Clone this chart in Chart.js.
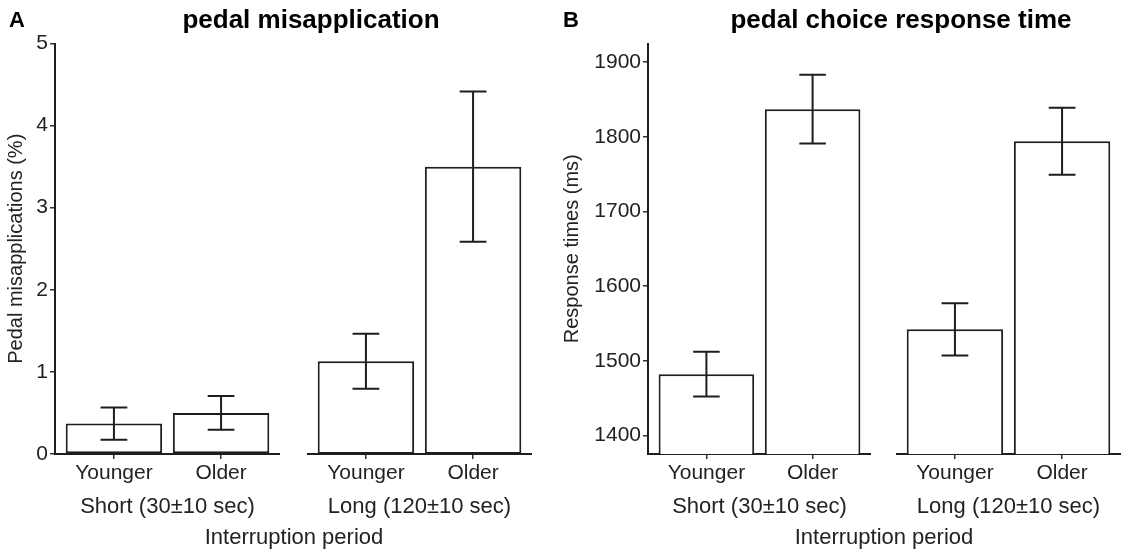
<!DOCTYPE html>
<html>
<head>
<meta charset="utf-8">
<title>pedal misapplication / response time</title>
<script src="https://cdn.jsdelivr.net/npm/chart.js@4.4.1/dist/chart.umd.min.js"></script>
<style>
  body { margin: 0; background: #fff; }
  #wrap { position: relative; width: 1121px; height: 554px; overflow: hidden;
          font-family: "Liberation Sans", Arial, Helvetica, sans-serif; color: #000; }
  canvas { position: absolute; top: 0; }
  .lbl { position: absolute; white-space: nowrap; line-height: 1; }
  .panel { font-weight: bold; font-size: 22px; }
  .title { font-weight: bold; font-size: 26px; transform: translateX(-50%); }
  .xgroup { font-size: 22px; color: #222; transform: translateX(-50%); }
</style>
</head>
<body>
<div id="wrap">
  <canvas id="a1" width="280" height="554" style="left:0px"></canvas>
  <canvas id="a2" width="225" height="554" style="left:307px"></canvas>
  <canvas id="b1" width="311" height="554" style="left:560px"></canvas>
  <canvas id="b2" width="225" height="554" style="left:896px"></canvas>

  <div class="lbl panel" style="left:9px;top:9px">A</div>
  <div class="lbl title" style="left:311px;top:6px">pedal misapplication</div>
  <div class="lbl xgroup" style="left:294px;top:526px">Interruption period</div>

  <div class="lbl panel" style="left:563px;top:9px">B</div>
  <div class="lbl title" style="left:901px;top:6px">pedal choice response time</div>
  <div class="lbl xgroup" style="left:884px;top:526px">Interruption period</div>
</div>

<script>
// data
const ageGroups = ["Younger", "Older"];
const periods = ["Short (30\u00b110 sec)", "Long (120\u00b110 sec)"];

// A: pedal misapplications (%), mean and error half-width
const misapplyShort = [0.37, 0.50];
const misapplyShortErr = [0.195, 0.205];
const misapplyLong = [1.13, 3.50];
const misapplyLongErr = [0.335, 0.915];
const misapplyTicks = [0, 1, 2, 3, 4, 5];

// B: response times (ms)
const rtShort = [1482, 1837];
const rtShortErr = [30, 46];
const rtLong = [1542, 1794];
const rtLongErr = [35, 45];
const rtTicks = [1400, 1500, 1600, 1700, 1800, 1900];

const ink = "#1e1e1e";
const textCol = "#222";

// error bars drawn from the y scale of each facet
const errorBars = {
  id: "errorBars",
  afterDatasetsDraw(chart) {
    const ctx = chart.ctx;
    const ds = chart.data.datasets[0];
    const meta = chart.getDatasetMeta(0);
    const xs = chart.scales.x, ys = chart.scales.y;
    const half = xs.getPixelForValue(0.125) - xs.getPixelForValue(0);
    ctx.save();
    ctx.strokeStyle = ink;
    ctx.lineWidth = 2;
    meta.data.forEach((bar, i) => {
      const m = ds.data[i].y, e = ds.errors[i];
      const top = ys.getPixelForValue(m + e);
      const bot = ys.getPixelForValue(m - e);
      ctx.beginPath();
      ctx.moveTo(bar.x, top); ctx.lineTo(bar.x, bot);
      ctx.moveTo(bar.x - half, top); ctx.lineTo(bar.x + half, top);
      ctx.moveTo(bar.x - half, bot); ctx.lineTo(bar.x + half, bot);
      ctx.stroke();
    });
    ctx.restore();
  }
};

function makeFacet(id, period, means, errs, yCfg) {
  const ctx = document.getElementById(id).getContext("2d");
  return new Chart(ctx, {
    type: "bar",
    data: {
      datasets: [{
        data: means.map((v, i) => ({ x: i, y: v })),
        errors: errs,
        backgroundColor: "#fff",
        borderColor: ink,
        borderWidth: 2,
        borderSkipped: false,
        barPercentage: 0.9,
        categoryPercentage: 1.0
      }]
    },
    options: {
      responsive: false,
      animation: false,
      devicePixelRatio: 1,
      layout: { padding: { top: 43.5, left: 0, right: 0, bottom: 0 } },
      plugins: { legend: { display: false }, tooltip: { enabled: false } },
      scales: {
        x: {
          type: "linear",
          offset: false,
          min: -0.55,
          max: 1.55,
          afterBuildTicks: s => { s.ticks = ageGroups.map((_, i) => ({ value: i })); },
          afterFit: s => { s.height = 100; },
          ticks: {
            callback: v => ageGroups[v],
            font: { size: 21 },
            color: textCol,
            padding: 2,
            autoSkip: false,
            maxRotation: 0
          },
          grid: { offset: false, drawOnChartArea: false, drawTicks: true, tickLength: 5, color: "#333", lineWidth: 1.5 },
          border: { display: true, color: ink, width: 2 },
          title: { display: true, text: period, font: { size: 22 }, color: textCol, padding: { top: 0, bottom: 34 } }
        },
        y: {
          display: yCfg.show,
          min: yCfg.min,
          max: yCfg.max,
          afterBuildTicks: s => { s.ticks = yCfg.ticks.map(v => ({ value: v })); },
          afterFit: s => { if (yCfg.show) s.width = yCfg.width; },
          ticks: { callback: v => String(v), font: { size: 21 }, color: textCol, padding: 2 },
          grid: { drawOnChartArea: false, drawTicks: true, tickLength: 5, color: "#333", lineWidth: 1.5 },
          border: { display: true, color: ink, width: 2 },
          title: { display: true, text: yCfg.title, font: { size: 20 }, color: textCol, padding: { top: yCfg.titlePad, bottom: 0 } }
        }
      }
    },
    plugins: [errorBars]
  });
}

const yA = { min: 0, max: 5, ticks: misapplyTicks, width: 55, title: "Pedal misapplications (%)", titlePad: 4 };
const yB = { min: 1375, max: 1925, ticks: rtTicks, width: 88, title: "Response times (ms)", titlePad: 0 };

makeFacet("a1", periods[0], misapplyShort, misapplyShortErr, { ...yA, show: true });
makeFacet("a2", periods[1], misapplyLong, misapplyLongErr, { ...yA, show: false });
makeFacet("b1", periods[0], rtShort, rtShortErr, { ...yB, show: true });
makeFacet("b2", periods[1], rtLong, rtLongErr, { ...yB, show: false });
</script>
</body>
</html>
